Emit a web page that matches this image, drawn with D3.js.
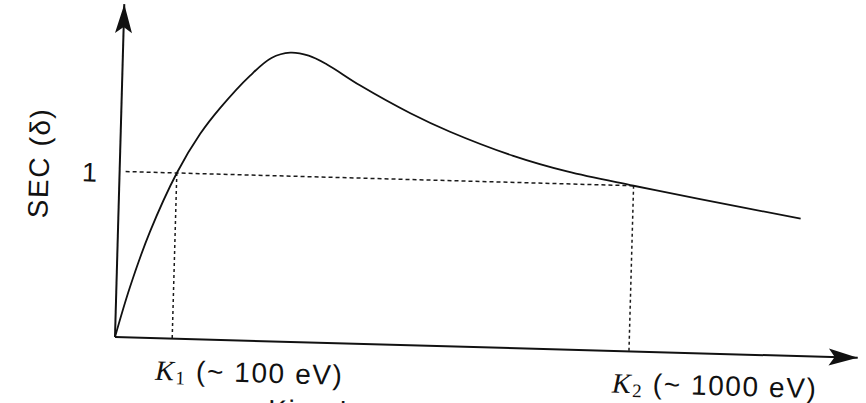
<!DOCTYPE html>
<html>
<head>
<meta charset="utf-8">
<script src="https://cdn.jsdelivr.net/npm/d3@7"></script>
<style>
  body { margin: 0; background: #fff; }
  text { font-family: "Liberation Sans", Arial, Helvetica, sans-serif; fill: #111; letter-spacing: 1.6px; }
  .kvar { font-family: "Liberation Serif", "Times New Roman", serif; font-style: italic; }
  .ksub { font-family: "Liberation Serif", "Times New Roman", serif; }
</style>
</head>
<body>
<div id="chart"></div>
<script>
// SEC curve, values (x in arbitrary energy units 0..100)
var energy = [0, 1.8, 4.3, 7.7, 10.7, 13.3, 17.2, 20.0, 22.5, 25.0, 27.5, 32.0, 38.9, 44.3, 52.9, 60.2, 69.2, 78.2, 91.8];
var sec    = [0, 0.30, 0.64, 1.00, 1.24, 1.40, 1.60, 1.71, 1.745, 1.73, 1.68, 1.56, 1.40, 1.295, 1.16, 1.075, 1.00, 0.93, 0.83];

// crossover energies where delta = 1, and their labels
var crossings = [7.7, 69.2];
var crossLabels = [["K", "1", " (~ 100 eV)"], ["K", "2", " (~ 1000 eV)"]];
var yTicks = [1];
var yTitle = "SEC (\u03b4)";
var xTitle = "Kinetic energy";

var width = 866, height = 403;
var plotW = 743, plotH = 333;
var tilt = 1.6; // the scan is slightly rotated

var svg = d3.select("#chart")
    .append("svg")
    .attr("width", width)
    .attr("height", height);

svg.append("rect").attr("width", width).attr("height", height).attr("fill", "#fff");

// arrow head, barbed like the printed one
svg.append("defs").append("marker")
    .attr("id", "arrow")
    .attr("markerUnits", "userSpaceOnUse")
    .attr("viewBox", "-30 -10 32 20")
    .attr("refX", 0).attr("refY", 0)
    .attr("markerWidth", 32).attr("markerHeight", 20)
    .attr("orient", "auto")
    .append("path")
    .attr("d", "M0,0 L-29,-8.5 L-23,0 L-29,8.5 Z")
    .attr("fill", "#111");

var g = svg.append("g")
    .attr("transform", "translate(115,337) rotate(" + tilt + ")");

var x = d3.scaleLinear().domain([0, 100]).range([0, plotW]);
var y = d3.scaleLinear().domain([0, 2.01]).range([0, -plotH]);

// dotted guide lines for delta = 1
g.append("line")
    .attr("x1", 6).attr("x2", x(crossings[1]))
    .attr("y1", y(1)).attr("y2", y(1))
    .attr("stroke", "#1a1a1a").attr("stroke-width", 1.5)
    .attr("stroke-dasharray", "4,3");

g.selectAll(".kline")
    .data(crossings)
    .enter()
    .append("line")
    .attr("class", "kline")
    .attr("x1", function (d) { return x(d); })
    .attr("x2", function (d) { return x(d); })
    .attr("y1", y(1)).attr("y2", y(0))
    .attr("stroke", "#1a1a1a").attr("stroke-width", 1.5)
    .attr("stroke-dasharray", "3,3");

// axes
g.append("line")
    .attr("x1", 0).attr("y1", 0)
    .attr("x2", x(100)).attr("y2", 0)
    .attr("stroke", "#111").attr("stroke-width", 2)
    .attr("marker-end", "url(#arrow)");

g.append("line")
    .attr("x1", 0).attr("y1", 0)
    .attr("x2", 0).attr("y2", y(2.01))
    .attr("stroke", "#111").attr("stroke-width", 2)
    .attr("marker-end", "url(#arrow)");

// the curve
var pts = energy.map(function (e, i) { return [e, sec[i]]; });
g.append("path")
    .datum(pts)
    .attr("fill", "none")
    .attr("stroke", "#111")
    .attr("stroke-width", 1.8)
    .attr("d", d3.line()
        .x(function (d) { return x(d[0]); })
        .y(function (d) { return y(d[1]); })
        .curve(d3.curveCatmullRom.alpha(0.5)));

// tick label "1"
g.selectAll(".ytick")
    .data(yTicks)
    .enter()
    .append("text")
    .attr("class", "ytick")
    .attr("x", -21)
    .attr("y", function (d) { return y(d) + 11; })
    .attr("text-anchor", "end")
    .style("font-size", "27px")
    .text(function (d) { return d; });

// y title
g.append("text")
    .attr("transform", "translate(-71,-172) rotate(-90)")
    .attr("text-anchor", "middle")
    .style("font-size", "28px")
    .text(yTitle);

// K1 / K2 labels
crossLabels.forEach(function (lab, i) {
    var t = g.append("text")
        .attr("x", x(crossings[i]) - 16)
        .attr("y", 41.5)
        .style("font-size", "28px");
    t.append("tspan").attr("class", "kvar").text(lab[0]);
    t.append("tspan").attr("class", "ksub").attr("dy", 4).style("font-size", "19px").text(lab[1]);
    t.append("tspan").attr("dy", -4).text(lab[2]);
});

// x title, mostly cut off by the page edge like in the scan
g.append("text")
    .attr("x", 155)
    .attr("y", 78)
    .style("font-size", "28px")
    .text(xTitle);
</script>
</body>
</html>
